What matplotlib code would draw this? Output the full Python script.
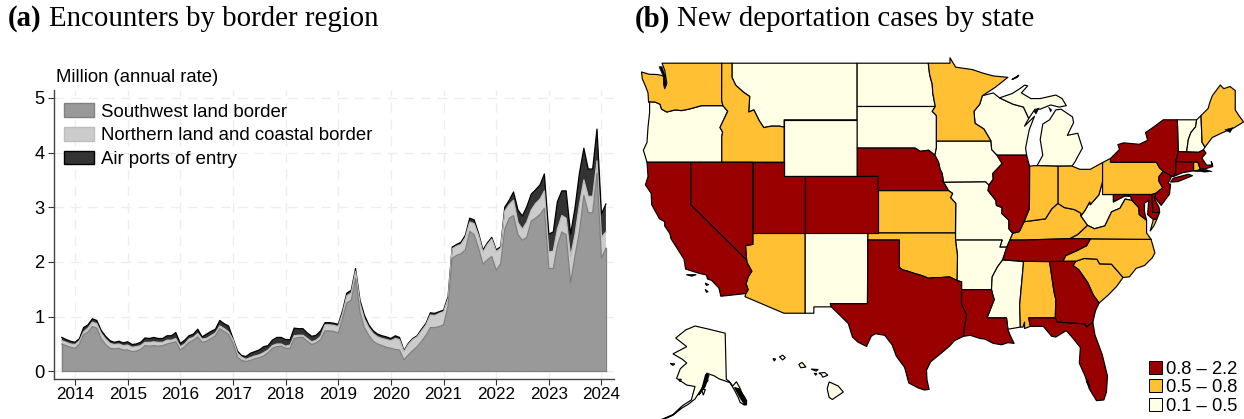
import matplotlib
matplotlib.use('Agg')
import matplotlib.pyplot as plt
import numpy as np
import pandas as pd
from matplotlib.patches import Polygon, Patch

W, H = 1244, 419
plt.rcParams['font.family'] = ['Liberation Sans', 'DejaVu Sans']

# ---------- panel (a) data: stacked tops, monthly from Oct 2013
months = pd.date_range('2013-10-01', periods=125, freq='MS')
sw_top = [.50,.47,.44,.42,.50,.67,.72,.82,.79,.60,.49,.42,.41,.42,.39,.39,.36,.37,.40,.47,.46,.47,.46,.47,.50,.52,.54,
          .39,.45,.53,.57,.63,.53,.55,.60,.65,.78,.73,.67,.52,.26,.20,.18,.20,.23,.25,.28,.34,.42,.45,.46,.42,.42,
          .60,.62,.62,.55,.49,.52,.58,.74,.74,.73,.70,.98,1.25,1.30,1.70,1.08,.80,.66,.55,.50,.47,.44,.42,.40,.39,
          .21,.30,.38,.45,.55,.66,.80,.80,.82,.85,1.20,2.07,2.12,2.15,2.22,2.56,2.50,2.25,1.96,2.04,2.10,1.85,1.97,
          2.60,2.80,2.85,2.50,2.40,2.45,2.75,2.80,2.87,2.98,1.88,1.88,2.30,2.55,2.50,1.62,2.10,2.55,3.22,2.90,2.90,
          3.62,2.07,2.25]
north_top = [.56,.53,.50,.49,.56,.72,.79,.90,.87,.70,.59,.51,.49,.50,.47,.48,.44,.45,.47,.53,.53,.54,.53,.53,.57,.57,.60,
             .45,.50,.59,.62,.69,.59,.60,.65,.70,.83,.78,.72,.58,.33,.26,.22,.25,.28,.30,.34,.39,.47,.50,.50,.46,.48,
             .65,.66,.66,.60,.54,.57,.64,.85,.85,.84,.82,1.07,1.38,1.43,1.83,1.24,.96,.80,.69,.63,.60,.58,.56,.60,.58,
             .36,.49,.58,.63,.74,.85,1.03,1.02,1.06,1.09,1.33,2.24,2.29,2.32,2.45,2.73,2.70,2.48,2.18,2.32,2.42,2.19,2.25,
             2.93,3.05,3.13,2.72,2.60,2.73,2.95,3.07,3.15,3.30,2.18,2.20,2.60,2.85,2.80,2.10,2.50,3.05,3.50,3.20,3.20,
             3.85,2.45,2.55]
total_top = [.62,.58,.55,.53,.60,.80,.85,.96,.93,.75,.64,.56,.53,.55,.52,.54,.49,.50,.53,.61,.60,.62,.60,.60,.65,.65,.71,
             .51,.57,.65,.68,.77,.63,.68,.73,.77,.93,.87,.83,.60,.37,.29,.27,.33,.36,.39,.45,.47,.57,.62,.62,.58,.58,
             .79,.78,.78,.70,.64,.66,.74,.89,.89,.88,.86,1.12,1.43,1.48,1.88,1.30,1.03,.85,.74,.68,.65,.63,.60,.65,.62,
             .38,.51,.60,.65,.77,.88,1.07,1.06,1.09,1.12,1.37,2.27,2.32,2.36,2.49,2.80,2.77,2.52,2.22,2.35,2.45,2.22,2.28,
             3.00,3.13,3.28,2.95,2.84,3.01,3.24,3.32,3.41,3.61,2.51,2.55,3.10,3.30,3.30,2.51,2.98,3.62,4.08,3.70,3.70,
             4.43,2.88,3.06]
series_names = ['Southwest land border', 'Northern land and coastal border', 'Air ports of entry']
fills = ['#999999', '#cccccc', '#333333']
edges = ['#808080', '#bdbdbd', '#000000']
year_ticks = list(range(2014, 2025))
y_ticks = [0, 1, 2, 3, 4, 5]

# ---------- panel (b) data: state outlines in lon/lat and their class
snake = [(-116.92,46.0),(-116.46,45.6),(-116.85,45.0),(-117.2,44.45),(-117.03,44.25),(-116.95,44.1),(-117.03,43.8),(-117.03,42.0)]
columbia = [(-124.05,46.27),(-123.4,46.25),(-122.95,46.1),(-122.8,45.75),(-122.3,45.55),(-121.5,45.7),(-120.9,45.65),(-120.2,45.75),(-119.3,45.93),(-118.98,46.0),(-116.92,46.0)]
bitterroot = [(-116.05,48.0),(-115.7,47.45),(-114.95,46.95),(-114.35,46.65),(-114.45,45.55),(-113.95,45.7),(-113.45,44.95),(-113.0,44.45),(-112.3,44.55),(-111.5,44.55),(-111.05,44.48)]
red_n = [(-97.23,49.0),(-97.1,48.2),(-96.85,47.5),(-96.8,46.9),(-96.56,45.94)]
missouri_r = [(-96.45,43.0),(-96.6,42.5),(-96.25,42.0),(-96.1,41.5),(-95.9,41.2),(-95.77,40.58)]
red_s = [(-94.48,33.64),(-95.2,33.9),(-96.0,33.85),(-96.6,33.85),(-97.2,33.8),(-97.9,34.0),(-98.6,34.15),(-99.2,34.3),(-99.7,34.4),(-100.0,34.56)]
co_river = [(-114.72,32.72),(-114.5,33.0),(-114.7,33.4),(-114.5,33.9),(-114.15,34.3),(-114.6,34.9),(-114.65,35.1)]
miss_up = [(-91.22,43.5),(-91.15,42.9),(-90.64,42.5),(-90.15,41.9),(-91.05,41.2),(-91.0,40.8),(-91.42,40.38)]
miss_mid = [(-91.42,40.38),(-91.5,40.0),(-90.75,39.3),(-90.7,38.95),(-90.15,38.8),(-90.2,38.4),(-89.5,37.9),(-89.5,37.3),(-89.13,36.98)]
miss_low = [(-89.4,36.5),(-89.7,36.0),(-90.1,35.1)]
miss_ar = [(-90.1,35.1),(-90.6,34.6),(-91.1,33.9),(-91.17,33.0)]
ohio_w = [(-84.8,39.1),(-85.4,38.7),(-86.0,38.0),(-87.0,37.9),(-88.05,37.8)]
ohio_e = [(-82.6,38.2),(-82.6,38.4),(-83.2,38.65),(-84.2,38.8),(-84.8,39.1)]
ohio_wv = [(-80.52,40.64),(-80.87,39.7),(-81.7,39.0),(-81.75,39.2),(-82.2,38.6),(-82.6,38.2)]
il_ky = [(-88.05,37.8),(-88.5,37.1),(-89.13,36.98)]
nc_tn = [(-81.68,36.59),(-82.05,36.1),(-83.0,35.75),(-84.05,35.4),(-84.32,35.0)]
sc_n = [(-83.1,35.0),(-82.3,35.2),(-81.05,35.15),(-80.8,34.82),(-79.67,34.8),(-78.55,33.86)]
savannah = [(-83.1,35.0),(-83.35,34.7),(-82.8,34.4),(-81.95,33.5),(-81.4,32.6),(-80.85,32.05)]
ky_va = [(-83.68,36.6),(-82.9,36.9),(-81.97,37.54)]
va_wv = [(-81.97,37.54),(-81.3,37.3),(-80.3,37.5),(-79.65,38.5),(-78.85,38.75),(-78.35,39.4),(-77.7,39.3)]
wi_mn = [(-92.05,46.7),(-92.3,46.1),(-92.85,45.6),(-92.75,44.75),(-91.9,44.35),(-91.22,43.5)]
rev = lambda a: a[::-1]

STATES = {
 'WA': [(-117.03,49.0),(-122.76,49.0),(-122.5,48.5),(-122.3,47.6),(-122.5,47.2),(-122.6,47.5),(-122.6,48.0),(-122.7,48.12),(-123.2,48.2),(-124.0,48.22),(-124.72,48.38),(-124.65,47.9),(-124.3,47.3),(-124.1,46.9)] + columbia + [(-117.04,46.4)],
 'OR': rev(columbia) + [(-123.95,46.2),(-123.95,45.5),(-124.1,44.5),(-124.2,43.4),(-124.55,42.85),(-124.4,42.5),(-124.2,42.0)] + rev(snake),
 'ID': [(-117.03,49.0),(-116.05,49.0)] + bitterroot + [(-111.05,42.0)] + rev(snake) + [(-117.04,46.4)],
 'MT': [(-116.05,49.0),(-104.05,49.0),(-104.05,45.0),(-111.05,45.0)] + rev(bitterroot),
 'WY': [(-111.05,45.0),(-104.05,45.0),(-104.05,41.0),(-111.05,41.0)],
 'ND': [(-104.05,49.0)] + red_n + [(-104.05,45.94)],
 'SD': [(-104.05,45.94),(-96.56,45.94),(-96.85,45.6),(-96.45,45.3),(-96.45,43.5),(-96.45,43.0),(-96.6,42.5),(-97.2,42.85),(-98.0,42.77),(-98.5,43.0),(-104.05,43.0)],
 'NE': [(-104.05,43.0),(-98.5,43.0),(-98.0,42.77),(-97.2,42.85)] + missouri_r[1:] + [(-95.85,40.7),(-95.3,40.0),(-102.05,40.0),(-102.05,41.0),(-104.05,41.0)],
 'KS': [(-102.05,40.0),(-95.3,40.0),(-94.9,39.8),(-95.1,39.5),(-94.6,39.1),(-94.62,37.0),(-102.05,37.0)],
 'OK': [(-103.0,37.0),(-94.62,37.0),(-94.62,36.5),(-94.43,35.4)] + red_s + [(-100.0,36.5),(-103.03,36.5)],
 'TX': [(-103.03,36.5),(-100.0,36.5)] + rev(red_s) + [(-94.04,33.55),(-94.04,33.0),(-94.04,31.99),(-93.55,31.2),(-93.75,30.4),(-93.85,29.7),(-94.7,29.4),(-95.2,29.0),(-96.0,28.5),(-97.0,27.9),(-97.4,27.3),(-97.35,26.6),(-97.15,25.95),(-97.6,25.9),(-98.2,26.05),(-99.1,26.4),(-99.5,27.5),(-100.3,28.3),(-100.7,29.1),(-101.4,29.77),(-102.3,29.88),(-102.7,29.7),(-103.15,28.98),(-104.0,29.3),(-104.5,29.65),(-104.9,30.6),(-106.0,31.4),(-106.53,31.78),(-106.62,32.0),(-103.06,32.0)],
 'NM': [(-109.05,37.0),(-103.0,37.0),(-103.03,36.5),(-103.06,32.0),(-106.62,32.0),(-106.53,31.78),(-108.2,31.78),(-108.2,31.33),(-109.05,31.33)],
 'AZ': [(-114.05,37.0),(-109.05,37.0),(-109.05,31.33),(-111.07,31.33),(-114.8,32.5)] + co_river + [(-114.75,36.1),(-114.05,36.2)],
 'UT': [(-114.05,42.0),(-111.05,42.0),(-111.05,41.0),(-109.05,41.0),(-109.05,37.0),(-114.05,37.0)],
 'CO': [(-109.05,41.0),(-102.05,41.0),(-102.05,37.0),(-109.05,37.0)],
 'NV': [(-120.0,42.0),(-114.05,42.0),(-114.05,36.2),(-114.75,36.1),(-114.65,35.1),(-120.0,39.0)],
 'CA': [(-124.2,42.0),(-120.0,42.0),(-120.0,39.0)] + rev(co_river) + [(-117.12,32.53),(-117.3,33.1),(-118.0,33.65),(-118.4,33.75),(-118.5,34.03),(-119.2,34.15),(-120.5,34.45),(-120.65,35.15),(-121.9,36.6),(-122.0,36.95),(-122.5,37.5),(-122.5,37.8),(-123.0,38.0),(-123.75,39.0),(-123.8,39.8),(-124.35,40.4),(-124.1,41.0)],
 'MN': [(-97.23,49.0),(-95.15,49.0),(-95.15,49.38),(-94.6,48.72),(-93.0,48.55),(-92.0,48.3),(-91.0,48.1),(-89.6,48.0),(-90.8,47.3)] + wi_mn + [(-96.45,43.5),(-96.45,45.3),(-96.85,45.6)] + rev(red_n),
 'IA': [(-96.45,43.5)] + miss_up + [(-91.73,40.61),(-95.77,40.58)] + rev(missouri_r),
 'MO': [(-95.77,40.58),(-91.73,40.61)] + miss_mid + miss_low[:2] + [(-90.37,36.0),(-90.15,36.5),(-94.62,36.5),(-94.62,37.0),(-94.6,39.1),(-95.1,39.5),(-94.9,39.8),(-95.3,40.0),(-95.85,40.7)],
 'AR': [(-94.62,36.5),(-90.15,36.5),(-90.37,36.0),(-89.7,36.0)] + miss_ar + [(-94.04,33.0),(-94.04,33.55),(-94.48,33.64),(-94.43,35.4)],
 'LA': [(-94.04,33.0),(-91.17,33.0),(-91.0,32.5),(-90.9,32.3),(-91.6,31.0),(-89.73,31.0),(-89.6,30.2),(-89.4,29.8),(-89.0,29.2),(-89.6,29.25),(-90.2,29.1),(-91.0,29.2),(-91.8,29.5),(-92.3,29.55),(-93.2,29.77),(-93.85,29.7),(-93.75,30.4),(-93.55,31.2),(-94.04,31.99)],
 'MS': rev(miss_ar) + [(-88.2,35.0),(-88.1,34.9),(-88.47,31.9),(-88.4,30.35),(-89.6,30.2),(-89.73,31.0),(-91.6,31.0),(-90.9,32.3),(-91.0,32.5)],
 'AL': [(-88.2,35.0),(-85.6,34.98),(-85.18,32.87),(-85.0,32.3),(-85.05,31.0),(-87.6,31.0),(-87.45,30.4),(-88.0,30.25),(-88.0,30.7),(-88.15,30.35),(-88.4,30.35),(-88.47,31.9),(-88.1,34.9)],
 'GA': [(-85.6,34.98)] + savannah + [(-81.2,31.5),(-81.45,30.7),(-82.05,30.35),(-82.2,30.57),(-84.86,30.7),(-85.05,31.0),(-85.0,32.3),(-85.18,32.87)],
 'FL': [(-87.6,31.0),(-85.05,31.0),(-84.86,30.7),(-82.2,30.57),(-82.05,30.35),(-81.45,30.7),(-81.25,29.8),(-80.55,28.4),(-80.05,26.9),(-80.15,25.75),(-80.4,25.2),(-81.1,25.15),(-81.8,26.0),(-82.2,26.9),(-82.75,27.8),(-82.65,28.9),(-83.4,29.6),(-84.0,30.1),(-85.0,29.65),(-85.4,29.7),(-86.2,30.4),(-87.45,30.4)],
 'SC': sc_n + [(-79.2,33.2),(-80.0,32.6)] + rev(savannah),
 'NC': [(-84.32,35.0)] + sc_n + [(-77.95,33.9),(-77.3,34.5),(-76.5,34.7),(-75.75,35.25),(-75.5,35.6),(-75.87,36.55)] + nc_tn,
 'TN': [(-90.1,35.1),(-88.2,35.0),(-85.6,34.98),(-84.32,35.0)] + rev(nc_tn) + [(-83.68,36.6),(-88.07,36.5),(-89.4,36.5),(-89.7,36.0)],
 'KY': [(-89.4,36.5),(-88.07,36.5)] + ky_va + [(-82.6,38.2)] + ohio_e[1:] + ohio_w[1:] + il_ky[1:],
 'VA': [(-83.68,36.6),(-81.68,36.59),(-75.87,36.55),(-76.3,37.0),(-76.3,37.9),(-77.0,38.3),(-77.05,38.8)] + rev(va_wv) + ky_va[1:-1],
 'VA2': [(-75.95,37.15),(-75.65,37.95),(-75.3,38.0),(-75.6,37.5)],
 'WV': va_wv + [(-77.83,39.6),(-78.4,39.62),(-79.48,39.2),(-79.48,39.72),(-80.52,39.72)] + ohio_wv,
 'MD': [(-79.48,39.72),(-75.79,39.72),(-75.7,38.46),(-75.05,38.45),(-75.3,38.0),(-75.65,37.95),(-76.2,38.3),(-76.1,39.3),(-76.5,39.1),(-76.5,38.5),(-76.3,37.9),(-77.0,38.3),(-77.05,38.8),(-77.7,39.3),(-77.83,39.6),(-78.4,39.62),(-79.48,39.2)],
 'DE': [(-75.79,39.72),(-75.42,39.8),(-75.55,39.45),(-75.1,38.8),(-75.05,38.45),(-75.7,38.46)],
 'PA': [(-80.52,41.98),(-79.76,42.27),(-79.76,42.0),(-75.35,42.0),(-75.05,41.6),(-74.7,41.36),(-75.1,41.0),(-75.15,40.7),(-74.75,40.2),(-75.42,39.8),(-75.79,39.72),(-80.52,39.72)],
 'NJ': [(-74.7,41.36),(-73.9,41.0),(-74.25,40.5),(-74.0,40.45),(-74.1,39.75),(-74.9,38.95),(-75.5,39.5),(-75.42,39.8),(-74.75,40.2),(-75.15,40.7),(-75.1,41.0)],
 'NY': [(-79.76,42.27),(-79.76,42.0),(-75.35,42.0),(-75.05,41.6),(-74.7,41.36),(-73.9,41.0),(-73.7,41.0),(-73.5,41.3),(-73.5,42.05),(-73.27,42.75),(-73.35,45.0),(-74.7,45.0),(-75.8,44.4),(-76.4,44.1),(-76.2,43.55),(-77.0,43.27),(-78.5,43.37),(-79.05,43.25),(-78.9,42.9)],
 'LI': [(-74.0,40.6),(-73.75,40.87),(-72.3,41.15),(-71.9,41.05),(-73.3,40.63)],
 'CT': [(-73.5,42.05),(-71.8,42.02),(-71.8,41.4),(-72.9,41.25),(-73.7,41.0),(-73.5,41.3)],
 'RI': [(-71.8,42.02),(-71.38,42.02),(-71.15,41.5),(-71.5,41.37),(-71.8,41.4)],
 'MA': [(-73.5,42.05),(-73.27,42.75),(-72.46,42.73),(-71.3,42.7),(-70.85,42.88),(-70.6,42.65),(-71.0,42.3),(-70.55,41.8),(-70.0,41.8),(-70.1,42.05),(-69.95,41.7),(-70.6,41.55),(-71.15,41.5),(-71.38,42.02),(-71.8,42.02)],
 'VT': [(-73.35,45.0),(-71.5,45.0),(-71.6,44.5),(-72.05,44.1),(-72.3,43.6),(-72.46,42.73),(-73.27,42.75)],
 'NH': [(-71.5,45.0),(-71.08,45.3),(-70.98,43.4),(-70.7,43.07),(-70.85,42.88),(-71.3,42.7),(-72.46,42.73),(-72.3,43.6),(-72.05,44.1),(-71.6,44.5)],
 'ME': [(-71.08,45.3),(-70.4,45.8),(-70.25,46.2),(-70.0,46.7),(-69.23,47.46),(-68.9,47.2),(-68.3,47.35),(-67.8,47.07),(-67.8,45.7),(-67.45,45.3),(-67.0,44.85),(-68.0,44.4),(-69.0,44.1),(-70.0,43.75),(-70.7,43.07),(-70.98,43.4)],
 'OH': [(-84.8,41.72),(-83.45,41.73),(-82.7,41.5),(-81.7,41.5),(-80.52,41.98)] + ohio_wv + ohio_e[1:],
 'IN': [(-87.52,41.72),(-87.2,41.75),(-86.8,41.76),(-84.8,41.72)] + ohio_w + [(-87.55,38.7),(-87.53,39.35)],
 'IL': [(-90.64,42.5),(-87.8,42.5),(-87.52,41.72),(-87.53,39.35),(-87.55,38.7)] + il_ky + rev(miss_mid)[1:] + [(-91.0,40.8),(-91.05,41.2),(-90.15,41.9)],
 'WI': [(-92.05,46.7),(-91.0,46.9),(-90.4,46.55),(-89.1,46.1),(-88.1,45.9),(-87.6,45.1),(-88.0,44.55),(-87.05,45.25),(-87.55,44.3),(-87.9,43.0),(-87.8,42.5),(-90.64,42.5),(-91.15,42.9),(-91.22,43.5),(-91.9,44.35),(-92.75,44.75),(-92.85,45.6),(-92.3,46.1)],
 'MI': [(-84.8,41.72),(-86.8,41.76),(-86.25,42.5),(-86.5,43.6),(-86.25,44.7),(-85.6,45.0),(-85.0,45.7),(-84.5,45.75),(-83.4,45.2),(-83.3,44.8),(-83.9,43.9),(-82.9,44.05),(-82.45,43.0),(-82.9,42.4),(-83.15,42.05),(-83.45,41.73)],
 'MIU': [(-90.4,46.55),(-89.2,46.85),(-88.45,47.2),(-88.0,47.45),(-87.7,47.4),(-88.3,46.9),(-87.4,46.5),(-86.5,46.5),(-85.0,46.75),(-84.4,46.5),(-84.0,46.0),(-84.7,45.9),(-85.5,46.05),(-86.5,45.75),(-87.0,45.75),(-87.6,45.1),(-88.1,45.9),(-89.1,46.1)],
 'MII': [(-89.2,47.85),(-88.55,48.15),(-88.7,48.0)],
 'CI1': [(-120.4,34.05),(-119.5,34.05),(-119.9,33.95)],
 'CI2': [(-118.6,33.45),(-118.3,33.35),(-118.5,33.3)],
 'CI3': [(-118.6,33.0),(-118.35,32.85),(-118.5,32.82)],
}
HIGH = ['CA','NV','UT','CO','NE','TX','LA','IL','TN','GA','FL','NY','LI','NJ','MD','DE','CT','MA','CI1','CI2','CI3']
MID = ['WA','ID','MN','KS','OK','AZ','AL','SC','NC','VA','VA2','KY','OH','IN','PA','ME','RI']
LOW = ['OR','MT','WY','ND','SD','IA','WI','MI','MIU','MII','MO','AR','MS','NM','WV','VT','NH']
classes = ['0.8 – 2.2', '0.5 – 0.8', '0.1 – 0.5']
class_colors = ['#990000', '#ffc033', '#ffffe5']
# islands so small that their outlines merge into black
ISLANDS = [[(-123.05,48.75),(-122.75,48.75),(-122.45,48.1),(-122.35,47.4),(-122.55,47.4),(-122.6,48.0)],
           [(-87.1,45.6),(-86.6,45.85),(-86.9,45.4)],[(-85.7,45.9),(-85.4,45.7),(-85.5,45.55)],
           [(-72.0,41.4),(-70.7,41.5),(-70.0,41.35),(-70.7,41.3)],[(-68.8,44.3),(-68.0,44.45),(-68.3,44.1)],
           [(-81.9,26.6),(-81.7,26.0),(-82.1,26.5)]]

ALASKA = [[(-141.6,69.9),(-141,60.3),(-139.5,59.9),(-137.5,58.9),(-135.5,59.8),(-133.5,58.4),(-131.5,56.5),(-130,55.9),(-130,55.0),(-131.5,55.0),(-133.5,55.5),(-134.5,56.5),(-136.5,58.0),(-139,59.6),(-142,60.0),(-145,60.4),(-147.5,61.0),(-151.7,61.6),(-151,60.0),(-153,59.2),(-155,58),(-158,56.2),(-162,55),(-165,54.35),(-170,52.8),(-176,51.8),(-180.5,51.6),(-176,51.95),(-170,52.95),(-165,54.75),(-160,56),(-158,58.8),(-162.5,59.1),(-168,60.5),(-166,62.5),(-162.5,63.7),(-165,64.5),(-170,65.6),(-162.5,67.1),(-168.5,68.9),(-163,70.6),(-158,71.4),(-150,70.7)],
          [(-154.5,58.2),(-152.4,58.2),(-153.5,57.0)],[(-167,60.3),(-165.5,60.3),(-166,59.8)],[(-171.5,63.6),(-169,63.5),(-170,63.2)]]
ALASKA_DARK = [[(-136.5,58.6),(-133.5,56.5),(-131,55.0),(-130.2,55.0),(-130.5,56.3),(-134,58.3)],
               [(-152.2,61.3),(-150.4,61.2),(-152.5,58.8),(-156,57.0),(-154.5,58.0)]]
HAWAII = [[(-155.9,20.25),(-155.2,19.95),(-154.8,19.5),(-155.65,18.95),(-155.9,19.1),(-156.05,19.75)],
          [(-156.7,20.9),(-156.25,20.95),(-156.0,20.75),(-156.4,20.6),(-156.5,20.8)],
          [(-157.3,21.2),(-156.75,21.17),(-156.9,21.05)],[(-157.05,20.9),(-156.85,20.85),(-156.95,20.75)],
          [(-158.25,21.55),(-158.0,21.7),(-157.7,21.35),(-158.1,21.3)],
          [(-159.75,22.1),(-159.5,22.23),(-159.3,22.05),(-159.5,21.88)],[(-160.25,21.98),(-160.05,21.95),(-160.15,21.8)]]

# ---------- figure
fig = plt.figure(figsize=(W/100, H/100), dpi=100)
def rect(x0, y0, x1, y1):
    return [x0/W, 1-y1/H, (x1-x0)/W, (y1-y0)/H]

ax = fig.add_axes(rect(54, 90, 614, 379.3))
s = np.array(sw_top); n = np.array(north_top); t = np.array(total_top)
ax.stackplot(months, s, n-s, t-n, colors=fills, edgecolor='none', linewidth=0, zorder=2)
for top, ec in zip([t, n, s], edges[::-1]):
    ax.plot(months, top, color=ec, lw=0.9, zorder=3)
ax.plot([months[-1], months[-1]], [0, s[-1]], color=edges[0], lw=0.9, zorder=3)
ax.plot([months[0], months[0]], [0, s[0]], color=edges[0], lw=0.9, zorder=3)
ax.plot([months[0], months[-1]], [0, 0], color=edges[0], lw=0.9, zorder=3)
ax.set_xlim(pd.Timestamp('2013-08-08'), pd.Timestamp('2024-03-28'))
ax.set_ylim(-0.146, 5.145)
ax.set_xticks([pd.Timestamp(f'{y}-01-01') for y in year_ticks])
ax.set_xticklabels([str(y) for y in year_ticks], fontsize=12.3)
ax.set_yticks(y_ticks)
ax.tick_params(axis='y', labelsize=13.2, length=4, width=0.8, color='#333333', pad=3)
ax.tick_params(axis='x', length=4, width=0.8, color='#333333', pad=1.5)
ax.grid(True, color='#eeeeee', lw=1.0, ls=(0, (7, 5)), zorder=0)
ax.set_axisbelow(True)
for sp in ['top', 'right']:
    ax.spines[sp].set_visible(False)
for sp in ['left', 'bottom']:
    ax.spines[sp].set_linewidth(1.0)
    ax.spines[sp].set_color('#444444')
handles = [Patch(facecolor=f, edgecolor=e, lw=1.0, label=l) for f, e, l in zip(fills, edges, series_names)]
ax.legend(handles=handles, loc='upper left', bbox_to_anchor=(64/W, 1-103.5/H), bbox_transform=fig.transFigure,
          frameon=False, fontsize=13.4, handlelength=1.61, handleheight=0.72, handletextpad=0.38,
          labelspacing=0.36, borderpad=0, borderaxespad=0)
fig.text(56/W, 1-77.5/H, 'Million (annual rate)', fontsize=13.3, va='center', ha='left')

serif = 'Liberation Serif'
title_y = 1-19/H
fig.text(8/W, title_y, '(a)', fontsize=20.8, family=serif, weight='bold', va='center')
fig.text(49/W, title_y, 'Encounters by border region', fontsize=20.8, family=serif, va='center')
fig.text(635/W, title_y, '(b)', fontsize=20.8, family=serif, weight='bold', va='center')
fig.text(677/W, title_y, 'New deportation cases by state', fontsize=20.8, family=serif, va='center')

# map axes: plate carree with the reference's lon/lat scale
mx0, mx1 = 630, 1244
SX, SY = 10.43, 14.15
m = fig.add_axes(rect(mx0, 0, mx1, H))
m.set_xlim(-109.05 + (mx0-805)/SX, -109.05 + (mx1-805)/SX)
m.set_ylim(37 - (H-233)/SY, 37 + 233/SY)
m.axis('off')
m.patch.set_alpha(0)
lw = 0.85
for names, col in zip([LOW, MID, HIGH], class_colors[::-1]):
    for nm in names:
        m.add_patch(Polygon(STATES[nm], closed=True, facecolor=col, edgecolor='black', lw=lw, joinstyle='round', zorder=3))
for poly in ISLANDS:
    m.add_patch(Polygon(poly, closed=True, facecolor='black', edgecolor='black', lw=0.4, zorder=4))
def to_lonlat(px, py):
    return (-109.05 + (px-805)/SX, 37 - (py-233)/SY)
for poly in ALASKA:
    pts = [to_lonlat(726.3+(lo+141)*1.84, 379.3-(la-60.3)*4.8) for lo, la in poly]
    m.add_patch(Polygon(pts, closed=True, facecolor=class_colors[2], edgecolor='black', lw=lw, zorder=3))
for poly in ALASKA_DARK:
    pts = [to_lonlat(726.3+(lo+141)*1.84, 379.3-(la-60.3)*4.8) for lo, la in poly]
    m.add_patch(Polygon(pts, closed=True, facecolor='black', edgecolor='black', lw=lw, zorder=4))
for poly in HAWAII:
    pts = [to_lonlat(834.3+(lo+155.5)*12.9, 390.7-(la-19.6)*13.5) for lo, la in poly]
    m.add_patch(Polygon(pts, closed=True, facecolor=class_colors[2], edgecolor='black', lw=lw, zorder=3))
lh = [Patch(facecolor=c, edgecolor='black', lw=0.7, label=l) for c, l in zip(class_colors, classes)]
m.legend(handles=lh, loc='upper left', bbox_to_anchor=(1149/W, 1-360.5/H), bbox_transform=fig.transFigure,
         frameon=False, fontsize=13.2, handlelength=0.72, handleheight=0.72, handletextpad=0.2,
         labelspacing=0.09, borderpad=0, borderaxespad=0)
fig.savefig('out.png', dpi=100)
